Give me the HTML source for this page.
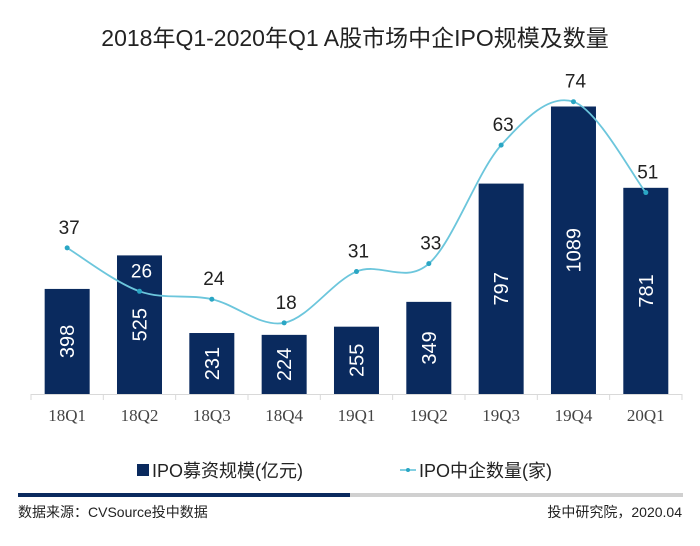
<!DOCTYPE html>
<html><head><meta charset="utf-8"><style>
body{margin:0;background:#fff;width:700px;height:541px;overflow:hidden}
text{font-family:"Liberation Sans","Noto Sans CJK SC",sans-serif}
</style></head><body>
<svg id="c" width="700" height="541">
<text x="355" y="46" text-anchor="middle" font-size="23" fill="#222">2018年Q1-2020年Q1 A股市场中企IPO规模及数量</text>
<line x1="31" y1="394.5" x2="682" y2="394.5" stroke="#d9d9d9"/>
<g id="bars"></g><g id="line"></g><g id="labels"></g>
<g>
<rect x="137" y="464" width="12" height="12" fill="#0a2a5e"/>
<text x="152" y="477" font-size="18" fill="#222" font-family="Liberation Serif,'Noto Sans CJK SC',serif">IPO募资规模(亿元)</text>
<line x1="400" y1="470" x2="416" y2="470" stroke="#5bc0d8" stroke-width="1.5"/>
<circle cx="408" cy="470" r="2" fill="#2aa6c4"/>
<text x="419" y="477" font-size="18" fill="#222">IPO中企数量(家)</text>
</g>
<rect x="18" y="493" width="332" height="4" fill="#0a2a5e"/>
<rect x="350" y="493" width="333" height="4" fill="#d0d0d0"/>
<text x="18" y="517" font-size="14" fill="#222">数据来源：CVSource投中数据</text>
<text x="682" y="517" font-size="14" fill="#222" text-anchor="end">投中研究院，2020.04</text>
</svg>
<script>
const categories=["18Q1","18Q2","18Q3","18Q4","19Q1","19Q2","19Q3","19Q4","20Q1"];
const amounts=[398,525,231,224,255,349,797,1089,781];
const counts=[37,26,24,18,31,33,63,74,51];
const NS="http://www.w3.org/2000/svg";
const x0=31,slot=72.33,base=394;
const xc=i=>x0+slot*(i+0.5);
const yBar=v=>base-v*0.264;
const yLine=v=>base-v*3.95;
function mk(t,a,p){const e=document.createElementNS(NS,t);for(const k in a)e.setAttribute(k,a[k]);p.appendChild(e);return e;}
const bars=document.getElementById('bars'),lg=document.getElementById('line'),lb=document.getElementById('labels');
for(let i=0;i<=categories.length;i++){const t=mk('line',{x1:x0+slot*i,x2:x0+slot*i,y1:base,y2:base+6,stroke:'#d9d9d9'},bars);

}
categories.forEach((c,i)=>{
 const y=yBar(amounts[i]);
 const r=mk('rect',{x:xc(i)-22.5,y:y,width:45,height:base-y,fill:'#0a2a5e'},bars);
 
 
 const cy=(y+base)/2;
 const t=mk('text',{x:xc(i),y:cy+7,'font-size':20,fill:'#fff','text-anchor':'middle',transform:`rotate(-90 ${xc(i)} ${cy})`},bars);
 t.textContent=amounts[i];
 
 
 const xl=mk('text',{x:xc(i),y:421,'font-size':17,fill:'#444','text-anchor':'middle','font-family':'Liberation Serif,serif'},bars);
 xl.style.fontFamily='"Liberation Serif",serif';
 xl.textContent=c;
 
 
});
const pts=counts.map((v,i)=>[xc(i),yLine(v)]);
let d=`M${pts[0][0]},${pts[0][1]}`;
for(let i=0;i<pts.length-1;i++){const p0=pts[Math.max(0,i-1)],p1=pts[i],p2=pts[i+1],p3=pts[Math.min(pts.length-1,i+2)];
d+=` C${p1[0]+(p2[0]-p0[0])/6},${p1[1]+(p2[1]-p0[1])/6} ${p2[0]-(p3[0]-p1[0])/6},${p2[1]-(p3[1]-p1[1])/6} ${p2[0]},${p2[1]}`;}
const path=mk('path',{d:d,fill:'none',stroke:'#6cc6dc','stroke-width':1.8},lg);


pts.forEach((p,i)=>{
 const c=mk('circle',{cx:p[0],cy:p[1],r:2.5,fill:'#2aa6c4'},lg);
 
 
 const t=mk('text',{x:p[0]+2,y:p[1]-14,'font-size':19,fill:i==1?'#fff':'#222','text-anchor':'middle'},lb);
 t.textContent=counts[i];
 
 
});
</script>
</body></html>
